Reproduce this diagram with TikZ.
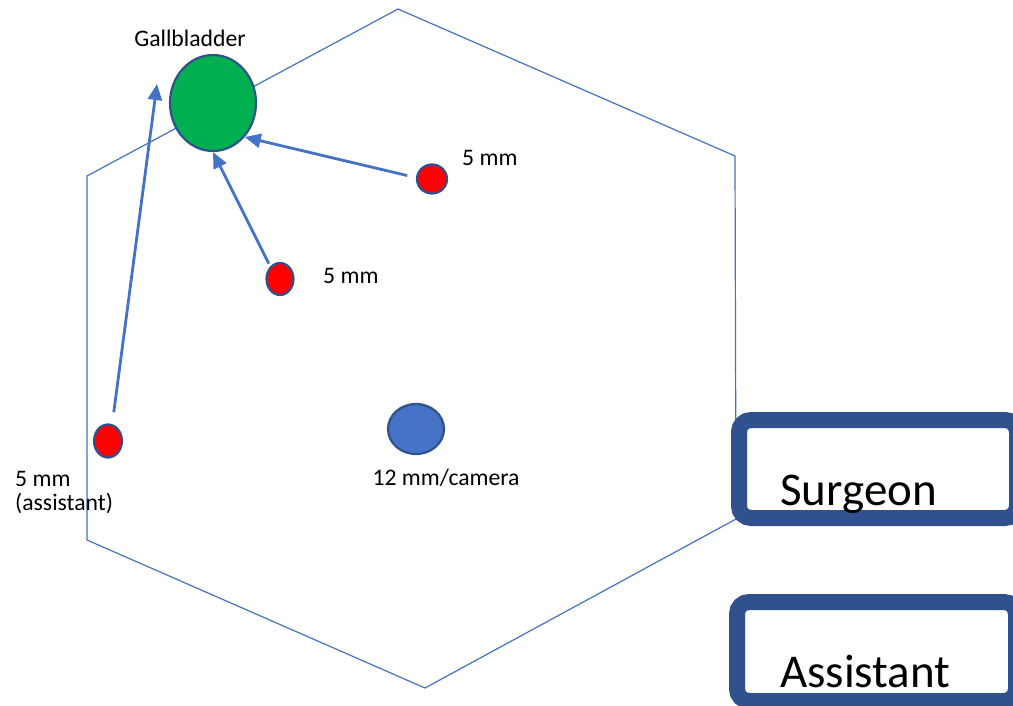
\documentclass[tikz,border=0pt]{standalone}
\usepackage{fontspec}
\setmainfont{Carlito}
\usetikzlibrary{shapes.geometric,arrows.meta}
\definecolor{hexblue}{HTML}{4472C4}
\definecolor{edgeblue}{HTML}{2F528F}
\definecolor{gbgreen}{HTML}{00B050}
\definecolor{portred}{HTML}{FF0000}
\tikzset{
  hexline/.style={draw=hexblue, line width=1.2pt},
  port/.style={ellipse, draw=edgeblue, line width=2.2pt, fill=portred, inner sep=0pt},
  arr/.style={draw=hexblue, line width=2.8pt, -{Triangle[length=16pt,width=14pt]}},
  lbl/.style={font=\fontsize{23.7}{28}\selectfont, inner sep=0pt},
  bigbox/.style={draw=edgeblue, line width=16pt, rounded corners=12pt, fill=white},
  biglbl/.style={font=\fontsize{47}{56}\selectfont, inner sep=0pt, anchor=base west},
}
\begin{document}
\begin{tikzpicture}[x=1pt,y=-1pt]
\useasboundingbox (0,0) rectangle (1013,705);
\clip (0,0) rectangle (1013,705);
% hexagon
\coordinate (h1) at (398,9);
\coordinate (h2) at (735,156);
\coordinate (h3) at (736,519);
\coordinate (h4) at (425,688);
\coordinate (h5) at (87,540);
\coordinate (h6) at (87,176);
\draw[hexline] (h1) -- (h2) -- (h3) -- (h4) -- (h5) -- (h6) -- cycle;
% gallbladder
\node[ellipse, draw=edgeblue, line width=2.2pt, fill=gbgreen, minimum width=86pt, minimum height=96pt, inner sep=0pt] (gb) at (213,103) {};
\node[lbl, anchor=base] (gbl) at (190,46) {Gallbladder};
% ports
\node[port, minimum width=30pt, minimum height=29pt] (d1) at (432,179) {};
\node[port, minimum width=27pt, minimum height=32pt] (d2) at (280,279) {};
\node[port, minimum width=28pt, minimum height=33pt] (d3) at (108,441) {};
\node[ellipse, draw=edgeblue, line width=2.2pt, fill=hexblue, minimum width=56pt, minimum height=50pt, inner sep=0pt] (cam) at (416,429) {};
% labels
\node[lbl, anchor=base west] (l1) at (462,165) {5 mm};
\node[lbl, anchor=base west] (l2) at (323,283) {5 mm};
\node[lbl, anchor=base west] (l3a) at (15,486) {5 mm};
\node[lbl, anchor=base west] (l3b) at (15,510) {(assistant)};
\node[lbl, anchor=base] (lcam) at (446,485) {12 mm/camera};
% arrows
\coordinate (t3) at (157,84);
\draw[arr, shorten <=9pt] (d1.175) -- (gb.-47);
\draw[arr, shorten <=3pt] (d2.128) -- (gb.south);
\draw[arr, shorten <=12pt] (d3.76) -- (t3);
% boxes
\draw[bigbox] (739,420) rectangle (1017,518);
\node[biglbl] (surg) at (780,505) {Surgeon};
\draw[bigbox] (737,602) rectangle (1016,701);
\node[biglbl] (asst) at (780,687) {Assistant};
\end{tikzpicture}
\end{document}
